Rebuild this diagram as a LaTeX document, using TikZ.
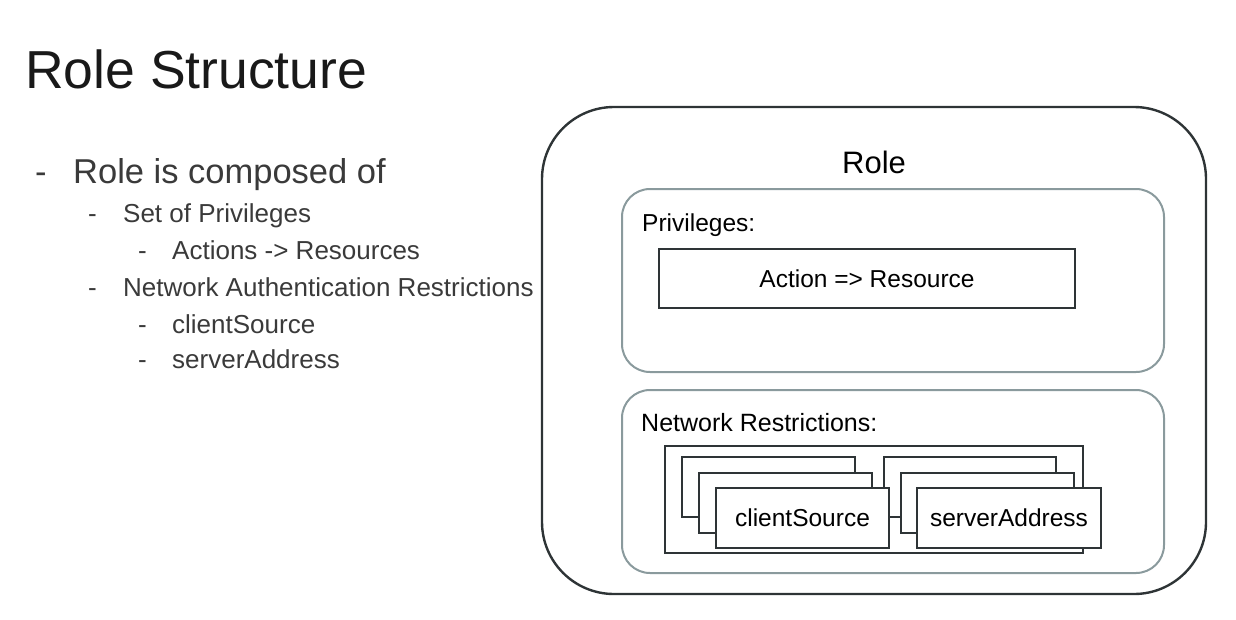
\documentclass[tikz,border=0pt]{standalone}
\usepackage{fontspec}
\setmainfont{Liberation Sans}
\definecolor{roleline}{HTML}{2E3436}
\definecolor{groupline}{HTML}{8A9A9D}
\definecolor{ink}{HTML}{3A3A3A}

\begin{document}
\begin{tikzpicture}[x=1pt,y=-1pt,
	fsize/.style={font=\fontsize{#1}{#1}\selectfont},
	listtext/.style={anchor=base west,inner sep=0pt,text=ink},
	rolebox/.style={draw=roleline,line width=2.4pt,rounded corners=72pt,minimum width=664pt,minimum height=487pt},
	groupbox/.style={draw=groupline,line width=2pt,rounded corners=28pt,minimum width=542pt,minimum height=184pt},
	itembox/.style={draw=roleline,line width=2pt,fill=white,minimum width=173pt,minimum height=60pt,inner sep=0pt,fsize=24.5}]
		\useasboundingbox (0,0) rectangle (1236,619);
		% left column
		\node[listtext,text=black!90,fsize=53.5] (title) at (25,88) {Role Structure};
		\node[listtext,fsize=34.5] (dashA) at (35,183) {-};
		\node[listtext,fsize=34.5] (composed) at (73,183) {Role is composed of};
		\node[listtext,fsize=26] (dashB) at (88,222) {-};
		\node[listtext,fsize=26] (setpriv) at (123,222) {Set of Privileges};
		\node[listtext,fsize=26] (dashC) at (138,259) {-};
		\node[listtext,fsize=26] (actres) at (172,259) {Actions -> Resources};
		\node[listtext,fsize=26] (dashD) at (88,296) {-};
		\node[listtext,fsize=26] (netauth) at (123,296) {Network Authentication Restrictions};
		\node[listtext,fsize=26] (dashE) at (138,333) {-};
		\node[listtext,fsize=26] (client) at (172,333) {clientSource};
		\node[listtext,fsize=26] (dashF) at (138,368) {-};
		\node[listtext,fsize=26] (server) at (172,368) {serverAddress};
		% role box
		\node[rolebox] (role) at (874,350.5) {};
		\node[anchor=base,inner sep=0pt,fsize=31] (roletitle) at (874,173) {Role};
		\node[groupbox,minimum height=183pt] (privileges) at (893,280.5) {};
		\node[anchor=base west,inner sep=0pt,fsize=24.5] (privtitle) at (642,231) {Privileges:};
		\node[itembox,minimum width=416pt,minimum height=59pt,fsize=24.5] (action) at (867,278.5) {Action => Resource};
		\node[groupbox,minimum height=183pt] (network) at (893,481.5) {};
		\node[anchor=base west,inner sep=0pt,fsize=25] (nettitle) at (641,431) {Network Restrictions:};
		\node[itembox,minimum width=418pt,minimum height=107pt] (restrictions) at (874,499.5) {};
		\node[itembox] (clientA) at (768.5,487) {};
		\node[itembox,minimum width=172pt] (serverA) at (970,487) {};
		\node[itembox] (clientB) at (785.5,502.5) {};
		\node[itembox] (serverB) at (987,502.5) {};
		\node[itembox] (clientC) at (802.5,518) {clientSource};
		\node[itembox,minimum width=184pt] (serverC) at (1009,518) {serverAddress};
\end{tikzpicture}
\end{document}
